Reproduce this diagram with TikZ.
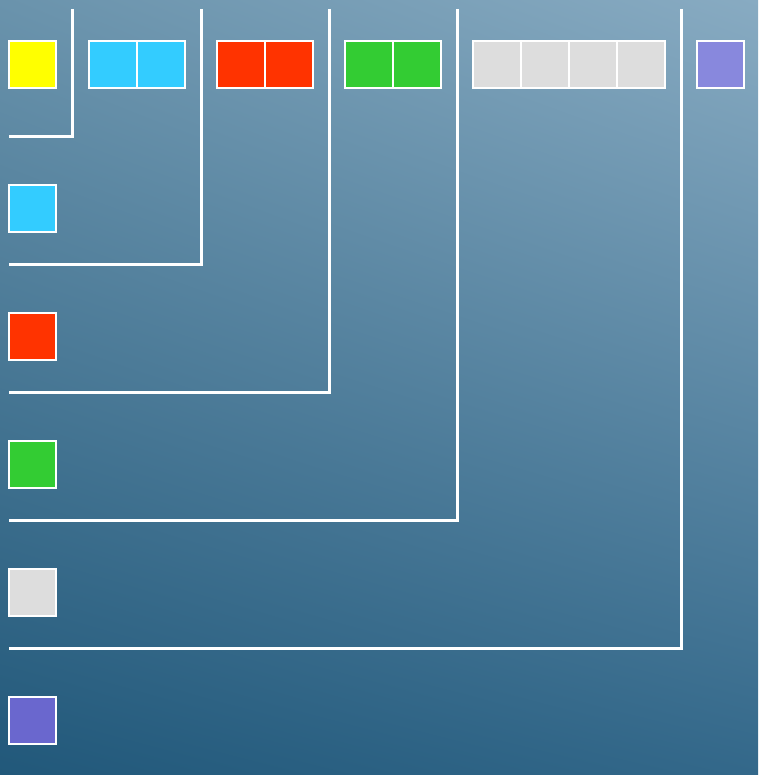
\documentclass[tikz,border=0pt]{standalone}
\usetikzlibrary{shadings}
\definecolor{bgUL}{HTML}{6A93AC}
\definecolor{bgUR}{HTML}{88ABC2}
\definecolor{bgLL}{HTML}{21587A}
\definecolor{bgLR}{HTML}{33688A}
\definecolor{cYellow}{HTML}{FFFF00}
\definecolor{cCyan}{HTML}{33CCFF}
\definecolor{cRed}{HTML}{FF3300}
\definecolor{cGreen}{HTML}{33CC33}
\definecolor{cGrey}{HTML}{DDDDDD}
\definecolor{cPurpleA}{HTML}{8888DD}
\definecolor{cPurpleB}{HTML}{6A67CE}
\tikzset{
  sq/.style={draw=white, line width=2pt, minimum size=47.5pt, inner sep=0pt, outer sep=0pt},
  bracket/.style={draw=white, line width=3pt},
}
\begin{document}
\begin{tikzpicture}[x=1pt,y=-1pt]
\useasboundingbox (0,0) rectangle (758,775);
\shade[upper left=bgUL, upper right=bgUR, lower left=bgLL, lower right=bgLR] (0,0) rectangle (758,775);
% top row
\node[sq, fill=cYellow] (y1) at (32.5,64.5) {};
\node[sq, fill=cCyan] (c1) at (112.75,64.5) {};
\node[sq, fill=cCyan] (c2) at (160.75,64.5) {};
\node[sq, fill=cRed] (r1) at (240.75,64.5) {};
\node[sq, fill=cRed] (r2) at (288.75,64.5) {};
\node[sq, fill=cGreen] (g1) at (368.75,64.5) {};
\node[sq, fill=cGreen] (g2) at (416.75,64.5) {};
\node[sq, fill=cGrey] (w1) at (496.75,64.5) {};
\node[sq, fill=cGrey] (w2) at (544.75,64.5) {};
\node[sq, fill=cGrey] (w3) at (592.75,64.5) {};
\node[sq, fill=cGrey] (w4) at (640.75,64.5) {};
\node[sq, fill=cPurpleA] (p1) at (720.5,64.5) {};
% left column
\node[sq, fill=cCyan] (lc) at (32.5,208.5) {};
\node[sq, fill=cRed] (lr) at (32.5,336.5) {};
\node[sq, fill=cGreen] (lg) at (32.5,464.5) {};
\node[sq, fill=cGrey] (lw) at (32.5,592.5) {};
\node[sq, fill=cPurpleB] (lp) at (32.5,720.5) {};
% brackets
\coordinate (t1) at (72.5,9); \coordinate (e1) at (9,136.5);
\coordinate (t2) at (201,9); \coordinate (e2) at (9,264.5);
\coordinate (t3) at (329,9); \coordinate (e3) at (9,392.5);
\coordinate (t4) at (457,9); \coordinate (e4) at (9,520.5);
\coordinate (t5) at (681,9); \coordinate (e5) at (9,648.5);
\draw[bracket] (t1) |- (e1);
\draw[bracket] (t2) |- (e2);
\draw[bracket] (t3) |- (e3);
\draw[bracket] (t4) |- (e4);
\draw[bracket] (t5) |- (e5);
\end{tikzpicture}
\end{document}
